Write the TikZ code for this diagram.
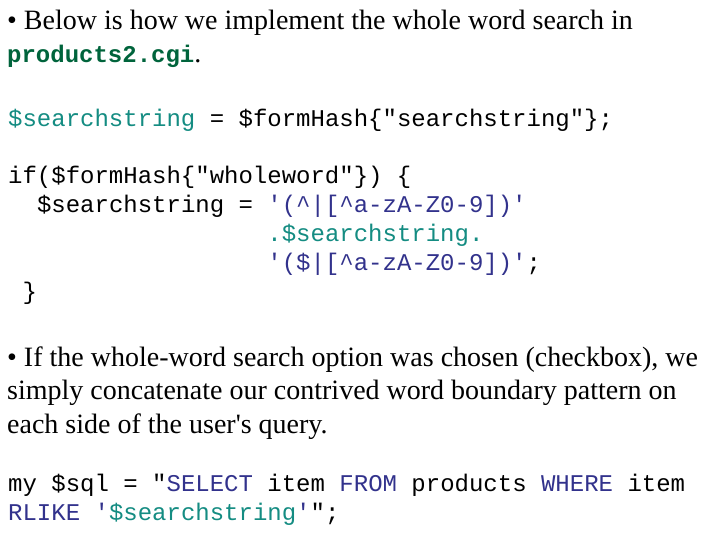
\documentclass[tikz,border=0pt]{standalone}
\usepackage{fontspec}
\setmainfont{Liberation Serif}
\setmonofont{Liberation Mono}
\definecolor{teal1}{RGB}{20,140,130}
\definecolor{blue1}{RGB}{50,50,140}
\definecolor{green1}{RGB}{0,100,60}
\begin{document}
\begin{tikzpicture}[x=1pt,y=1pt,
  txt/.style={anchor=base west,inner sep=0pt,font=\fontsize{28}{32}\selectfont},
  code/.style={anchor=base west,inner sep=0pt,font=\fontsize{24}{28}\ttfamily}]
\useasboundingbox[fill=white] (0,0) rectangle (720,540);
\newcommand{\T}[1]{\textcolor{teal1}{#1}}
\newcommand{\B}[1]{\textcolor{blue1}{#1}}
\node[txt] (l1) at (7,540-30) {• Below is how we implement the whole word search in};
\node[txt] (l2) at (7,540-63) {\textcolor{green1}{\fontsize{24}{28}\ttfamily\bfseries products2.cgi}.};
\node[code] (c1) at (8,540-127) {\T{\$searchstring} = \$formHash\{"searchstring"\};};
\node[code] (c2) at (8,540-184) {if(\$formHash\{"wholeword"\}) \{};
\node[code] (c3) at (36.8,540-213) {\$searchstring = \B{'(\^{}|[\^{}a-zA-Z0-9])'}};
\node[code] (c4) at (267.2,540-242) {\T{.\$searchstring.}};
\node[code] (c5) at (267.2,540-271) {\B{'(\$|[\^{}a-zA-Z0-9])'};};
\node[code] (c6) at (22.4,540-300) {\}};
\node[txt] (t1) at (7,540-367) {• If the whole-word search option was chosen (checkbox), we};
\node[txt] (t2) at (7,540-400) {simply concatenate our contrived word boundary pattern on};
\node[txt] (t3) at (7,540-434) {each side of the user\textquotesingle s query.};
\node[code] (s1) at (8,540-492) {my \$sql = "\B{SELECT} item \B{FROM} products \B{WHERE} item};
\node[code] (s2) at (8,540-521) {\B{RLIKE '}\T{\$searchstring}\B{'}";};
\end{tikzpicture}
\end{document}
